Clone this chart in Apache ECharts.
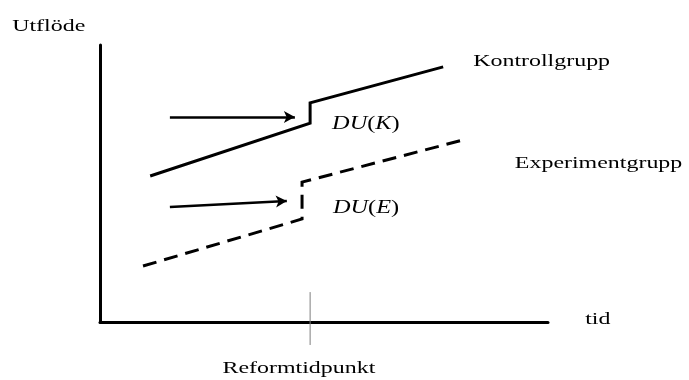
<!DOCTYPE html>
<html>
<head>
<meta charset="utf-8">
<script src="https://cdn.jsdelivr.net/npm/echarts@6/dist/echarts.min.js"></script>
<style>
  html, body { margin: 0; padding: 0; background: #fff; }
  #chart { width: 689px; height: 380px; }
</style>
</head>
<body>
<div id="chart"></div>
<script>
// diagram values, in axis units (x: time 0-100, y: outflow 0-100)
var reformX = 46.9;
var kontrollX = [11.2, 46.9, 46.9, 76.6];
var kontrollY = [52.7, 71.8, 79.1, 92.1];
var experimentX = [9.6, 45.1, 45.1, 81.0];
var experimentY = [20.2, 37.2, 50.5, 65.7];
var arrowK = [[15.6, 74.0], [43.5, 74.0]];
var arrowE = [[15.6, 41.5], [41.7, 43.7]];
var tickY = [-8.3, 10.8];

var labelText = ['Utflöde', 'tid', 'Reformtidpunkt', 'Kontrollgrupp', 'Experimentgrupp', '{i|DU}({i|K})', '{i|DU}({i|E})'];
var labelX = [-19.6, 108.3, 44.4, 83.3, 92.6, 51.8, 52.0];
var labelY = [106.5, 0.7, -17.0, 93.9, 57.0, 71.6, 41.0];

// text look: plain labels vs the italic DU(..) formulas
var plainStyle = { size: 16.5, scale: 1.45 };
var formulaStyle = { size: 19, scale: 1.28 };

function pairs(xs, ys) {
    return xs.map(function (x, i) { return [x, ys[i]]; });
}

var chart = echarts.init(document.getElementById('chart'));

var option = {
    animation: false,
    backgroundColor: '#fff',
    grid: { left: 100, right: 141, top: 45, bottom: 58 },
    xAxis: {
        type: 'value', min: 0, max: 100,
        axisLine: { show: true, onZero: false, lineStyle: { color: '#000', width: 3 } },
        axisTick: { show: false },
        axisLabel: { show: false },
        splitLine: { show: false }
    },
    yAxis: {
        type: 'value', min: 0, max: 100,
        axisLine: { show: true, onZero: false, lineStyle: { color: '#000', width: 3 } },
        axisTick: { show: false },
        axisLabel: { show: false },
        splitLine: { show: false }
    },
    series: [
        {
            name: 'reform',
            type: 'line',
            clip: false,
            symbol: 'none',
            data: [[reformX, tickY[0]], [reformX, tickY[1]]],
            lineStyle: { color: '#7f7f7f', width: 1 },
            z: 1
        },
        {
            name: 'Kontrollgrupp',
            type: 'line',
            symbol: 'none',
            data: pairs(kontrollX, kontrollY),
            lineStyle: { color: '#000', width: 3, join: 'miter' }
        },
        {
            name: 'Experimentgrupp',
            type: 'line',
            symbol: 'none',
            data: pairs(experimentX, experimentY),
            lineStyle: { color: '#000', width: 3, type: [14, 8], join: 'miter' }
        },
        {
            name: 'arrows',
            type: 'line',
            data: [],
            markLine: {
                silent: true,
                symbol: ['none', 'arrow'],
                symbolSize: [9, 11],
                label: { show: false },
                lineStyle: { color: '#000', width: 2.5, type: 'solid' },
                data: [
                    [{ coord: arrowK[0] }, { coord: arrowK[1] }],
                    [{ coord: arrowE[0] }, { coord: arrowE[1] }]
                ]
            }
        },
        {
            name: 'labels',
            type: 'custom',
            clip: false,
            data: pairs(labelX, labelY),
            renderItem: function (params, api) {
                var i = params.dataIndex;
                var p = api.coord([api.value(0), api.value(1)]);
                var s = i >= 5 ? formulaStyle : plainStyle;
                return {
                    type: 'text',
                    x: p[0],
                    y: p[1],
                    scaleX: s.scale,
                    style: {
                        text: labelText[i],
                        fill: '#000',
                        font: s.size + 'px "Liberation Serif", serif',
                        align: i === 2 ? 'center' : 'left',
                        verticalAlign: 'middle',
                        rich: {
                            i: { fontStyle: 'italic', fontFamily: '"Liberation Serif", serif', fontSize: s.size, fill: '#000' }
                        }
                    }
                };
            }
        }
    ]
};

chart.setOption(option);
</script>
</body>
</html>
